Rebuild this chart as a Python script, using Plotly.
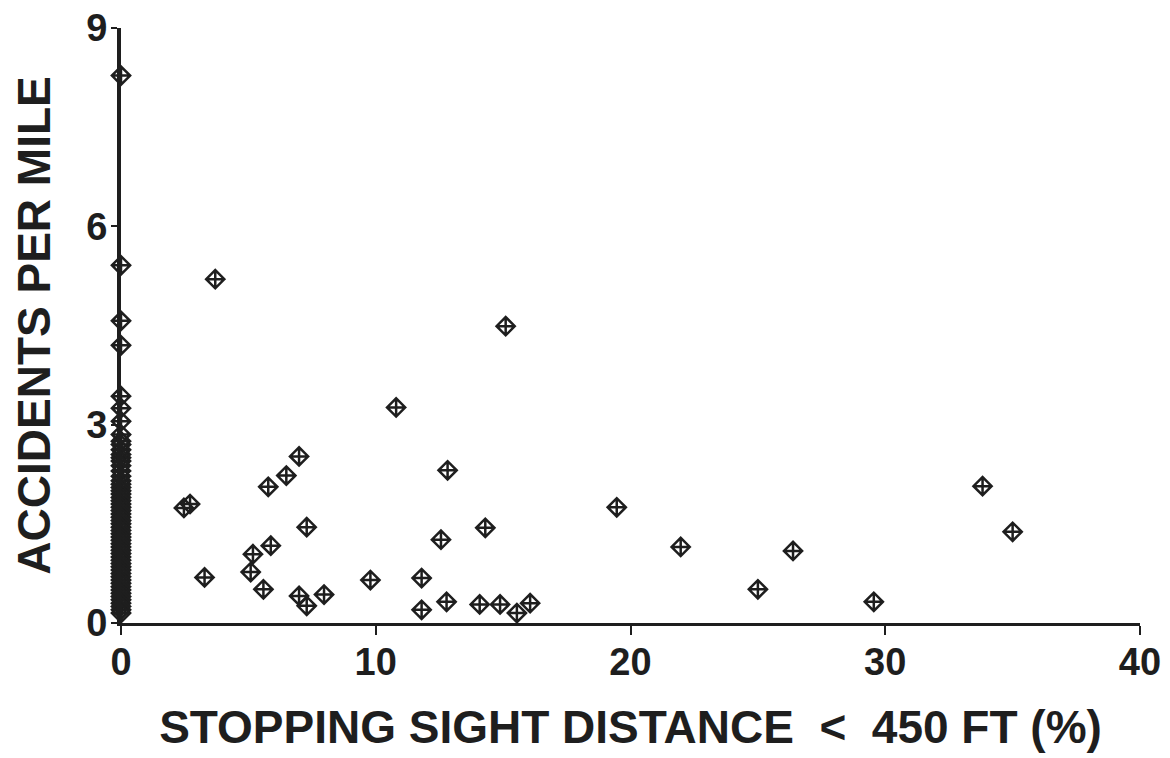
import plotly.graph_objects as go

# Segments with some stopping sight distance restriction (x > 0)
ssd_pct = [3.70, 10.80, 6.99, 6.49, 5.78, 2.47, 2.71, 12.82, 7.29, 5.88,
           5.18, 12.56, 3.28, 5.09, 5.59, 6.99, 7.29, 7.97, 9.79, 11.80,
           11.80, 12.78, 15.10, 14.30, 14.08, 14.88, 15.54, 16.06, 19.46, 21.97,
           26.38, 25.00, 29.55, 33.82, 35.00]
acc_rate = [5.20, 3.26, 2.52, 2.23, 2.06, 1.74, 1.80, 2.31, 1.45, 1.17,
            1.04, 1.26, 0.69, 0.77, 0.51, 0.41, 0.26, 0.43, 0.65, 0.68,
            0.20, 0.32, 4.49, 1.44, 0.28, 0.28, 0.15, 0.30, 1.75, 1.15,
            1.09, 0.51, 0.32, 2.07, 1.38]

# Segments with no restriction (x = 0)
zero_acc = [8.28, 5.41, 4.57, 4.20, 3.43, 3.25, 3.05, 2.85, 2.75, 2.70,
            2.62, 2.55, 2.50, 2.45, 2.38, 2.30, 2.22, 2.15, 2.10, 2.05,
            2.00, 1.95, 1.90, 1.85, 1.80, 1.75, 1.70, 1.65, 1.60, 1.55,
            1.50, 1.45, 1.40, 1.35, 1.30, 1.25, 1.20, 1.15, 1.10, 1.05,
            1.00, 0.95, 0.90, 0.85, 0.80, 0.75, 0.70, 0.65, 0.60, 0.55,
            0.50, 0.45, 0.40, 0.35, 0.30, 0.25, 0.20, 0.15]
zero_x = [0.0] * len(zero_acc)

x_ticks = [0, 10, 20, 30, 40]
y_ticks = [0, 3, 6, 9]

ink = "#1e1e1e"
marker = dict(symbol="diamond-cross-open", size=14, color=ink, line=dict(width=2.5, color=ink))

fig = go.Figure()
fig.add_trace(go.Scatter(x=zero_x, y=zero_acc, mode="markers", marker=marker,
                         cliponaxis=False, showlegend=False))
fig.add_trace(go.Scatter(x=ssd_pct, y=acc_rate, mode="markers", marker=marker,
                         cliponaxis=False, showlegend=False))

font_family = "Liberation Sans, Arial, sans-serif"
# page body has an 8px default margin, so the figure is sized to end at the window edge
fig.update_layout(
    width=1162, height=750,
    margin=dict(l=113, r=30, t=20, b=135),
    paper_bgcolor="white", plot_bgcolor="white",
    font=dict(family=font_family, color=ink),
    xaxis=dict(
        range=[0, 40], tickvals=x_ticks, ticktext=["<b>%d</b>" % v for v in x_ticks],
        showgrid=False, zeroline=False, showline=True, linecolor=ink, linewidth=3,
        ticks="outside", ticklen=9, tickwidth=2, tickcolor=ink, automargin=False,
        ticklabelstandoff=-6, ticklabeloverflow="allow",
        tickfont=dict(size=38, color=ink),
        title=dict(text="<b>STOPPING SIGHT DISTANCE  <  450 FT (%)</b>",
                   font=dict(size=46, color=ink), standoff=30),
    ),
    yaxis=dict(
        range=[0, 9], tickvals=y_ticks, ticktext=["<b>%d</b>" % v for v in y_ticks],
        showgrid=False, zeroline=False, showline=True, linecolor=ink, linewidth=4,
        ticks="outside", ticklen=6, tickwidth=2, tickcolor=ink, automargin=False,
        ticklabelstandoff=-4, ticklabeloverflow="allow",
        tickfont=dict(size=38, color=ink),
        title=dict(text="<b>ACCIDENTS PER MILE</b>", font=dict(size=46, color=ink), standoff=30),
    ),
)

fig.write_html("out.html")
